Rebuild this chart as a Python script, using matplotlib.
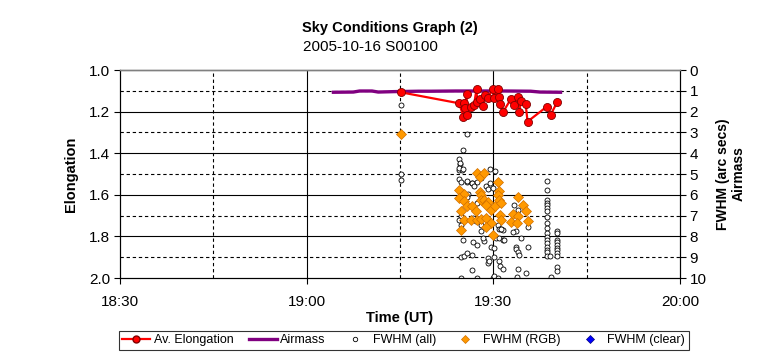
import matplotlib
matplotlib.use("Agg")
import matplotlib.pyplot as plt
from matplotlib.lines import Line2D

plt.rcParams['font.family'] = ['Liberation Sans', 'DejaVu Sans']

# times are minutes after 19:00 UT
elong_min = [15.1, 24.5, 25.2, 25.3, 25.4, 25.7, 25.8, 26.4, 26.9, 27.3, 27.4, 27.9,
             28.4, 28.6, 29.1, 29.9, 30.1, 30.7, 30.9, 31.1, 31.6, 32.8, 33.4, 33.9,
             34.2, 34.4, 35.2, 35.5, 38.6, 39.2, 40.3]
elong_val = [1.107, 1.160, 1.224, 1.160, 1.184, 1.117, 1.216, 1.176, 1.168, 1.091, 1.152, 1.139,
             1.171, 1.120, 1.136, 1.091, 1.136, 1.091, 1.128, 1.165, 1.200, 1.141, 1.168, 1.128,
             1.203, 1.149, 1.165, 1.248, 1.176, 1.216, 1.152]

airmass_min = [4.3, 7.5, 8.5, 10.5, 11.5, 14, 16, 18, 20, 24, 28, 32, 36, 37.5, 40.8]
airmass_val = [1.07, 1.06, 1.01, 1.01, 1.06, 1.04, 1.03, 1.02, 1.02, 1.01, 1.01, 1.01, 1.02, 1.06, 1.07]

fwhm_all_min = [15.1, 15.1, 15.1,
                25.7, 25.2, 24.5, 24.6, 24.5, 24.9, 24.5, 24.8, 25.7, 26.6, 27.4, 28.0, 28.9,
                29.1, 29.9, 30.2, 25.2, 25.9, 25.7, 27.4, 28.0, 26.8, 27.2, 27.7, 28.0, 28.0,
                30.7, 30.9, 31.2, 31.6, 25.2, 26.8, 27.4, 28.5, 28.4, 29.6, 30.1, 30.4, 30.9,
                31.5, 31.7, 24.8, 25.3, 25.7, 26.6, 29.1, 29.1, 29.3, 30.1, 30.9, 31.1, 31.6,
                26.6, 24.8, 27.4, 29.9, 30.1, 30.7, 33.6, 33.6, 33.9, 34.1, 33.6, 33.1, 34.4,
                35.5, 33.9, 33.8, 35.2, 35.5, 33.9, 33.3,
                24.6, 24.5, 25.2, 25.8, 26.6, 26.9, 29.5, 29.5, 24.8, 24.5, 24.8, 28.8, 31.2,
                38.6, 38.6, 38.6, 38.6, 38.6, 38.6, 38.6, 38.6, 38.6, 38.6, 38.6, 38.6, 38.6,
                38.6, 38.6, 38.6, 38.6, 38.6, 39.1, 39.2,
                40.3, 40.3, 40.3, 40.3, 40.3, 40.3, 40.3, 40.3, 40.3, 40.3, 40.3]
fwhm_all_val = [1.7, 5.0, 5.3,
                3.1, 3.85, 4.3, 4.5, 4.8, 4.8, 5.25, 5.4, 5.4, 5.45, 5.4, 5.2, 5.6,
                5.7, 5.65, 4.85, 5.9, 5.95, 6.1, 6.4, 6.2, 7.1, 7.25, 7.15, 7.45, 7.75,
                7.45, 7.65, 7.65, 7.7, 8.15, 8.25, 8.4, 8.2, 8.1, 8.5, 8.55, 8.1, 8.1,
                8.15, 8.15, 9.0, 8.95, 8.8, 8.9, 9.05, 9.3, 9.2, 9.0, 9.2, 9.4, 9.55,
                9.6, 10.0, 10.0, 10.0, 9.9, 10.0, 8.5, 8.6, 8.75, 8.9, 7.75, 7.8, 8.1,
                8.5, 9.55, 9.95, 9.75, 7.55, 6.75, 6.5,
                4.45, 4.7, 4.75, 5.35, 5.45, 5.6, 5.45, 4.75, 7.0, 7.2, 7.45, 7.5, 7.65,
                5.35, 5.75, 6.25, 6.4, 6.5, 6.65, 6.8, 7.05, 7.35, 7.6, 7.85, 8.05, 8.15,
                8.3, 8.5, 8.65, 8.75, 8.95, 8.95, 9.95,
                7.75, 7.85, 8.15, 8.25, 8.4, 8.55, 8.65, 8.8, 8.95, 9.45, 9.65]

fwhm_rgb_min = [15.1, 27.4, 27.9, 28.5, 30.8, 24.5, 25.3, 27.8, 28.0, 30.9, 30.7, 24.5,
                25.3, 25.7, 24.8, 26.6, 27.2, 28.0, 28.5, 29.1, 28.8, 29.6, 30.3, 30.9,
                31.3, 31.1, 31.3, 25.3, 26.4, 27.4, 28.0, 28.9, 29.7, 28.8, 24.8, 30.0,
                33.9, 34.7, 35.2, 33.1, 33.9, 32.9, 33.8, 35.6]
fwhm_rgb_val = [3.1, 4.95, 5.15, 4.95, 5.4, 5.75, 5.95, 5.85, 6.0, 5.8, 6.0, 6.15,
                6.3, 6.55, 6.8, 6.55, 6.8, 6.25, 6.25, 6.35, 6.5, 6.75, 6.55, 6.25,
                6.4, 6.95, 7.2, 7.2, 7.2, 7.2, 7.15, 7.1, 7.35, 7.55, 7.7, 7.95,
                6.1, 6.5, 6.8, 6.9, 7.0, 7.3, 7.35, 7.25]

fwhm_clear_min = []
fwhm_clear_val = []

x_ticks = [-30, 0, 30, 60]
x_labels = ['18:30', '19:00', '19:30', '20:00']

fig = plt.figure(figsize=(7.63, 3.58), dpi=100)
ax = fig.add_axes([120 / 763, 1 - 278 / 358, 560 / 763, 208 / 358])
ax2 = ax.twinx()

# right axis sits underneath, carries the grey background and the grid
ax.set_zorder(ax2.get_zorder() + 1)
ax.patch.set_visible(False)
ax2.patch.set_facecolor('#c0c0c0')

dash = (0, (3, 2.5))
for v in [2, 4, 6, 8]:
    ax2.axhline(v, color='black', lw=0.8, zorder=0.5)
for v in [1, 3, 5, 7, 9]:
    ax2.axhline(v, color='black', lw=0.8, ls=dash, zorder=0.5)
for v in [0, 30]:
    ax2.axvline(v, color='black', lw=0.8, zorder=0.5)
for v in [-15, 15, 45]:
    ax2.axvline(v, color='black', lw=0.8, ls=dash, zorder=0.5)

ax2.plot(fwhm_all_min, fwhm_all_val, 'o', ms=3.6, mfc='white', mec='black', mew=0.6,
         ls='none', zorder=2)
ax2.plot(fwhm_rgb_min, fwhm_rgb_val, 'D', ms=5, mfc='#ff9900', mec='#d07000', mew=0.5,
         ls='none', zorder=3)
ax2.plot(fwhm_clear_min, fwhm_clear_val, 'D', ms=4, mfc='#0000ff', mec='#000080',
         ls='none', zorder=3)
ax2.plot(airmass_min, airmass_val, color='#800080', lw=2.4, zorder=4)

ax.plot(elong_min, elong_val, color='#ff0000', lw=1.6, marker='o', ms=5.8,
        mfc='#ff0000', mec='#800000', mew=0.6, zorder=5)

ax.set_xlim(-30, 60)
ax.set_ylim(2.0, 1.0)
ax2.set_ylim(10, 0)
ax.set_xticks(x_ticks)
ax.set_xticklabels(x_labels)
ax.set_yticks([1.0, 1.2, 1.4, 1.6, 1.8, 2.0])
ax.set_yticklabels(['1.0', '1.2', '1.4', '1.6', '1.8', '2.0'])
ax2.set_yticks(range(0, 11))

ax.tick_params(axis='both', direction='out', length=4, width=0.8, labelsize=11, pad=3)
ax.tick_params(axis='x', pad=8)
ax2.tick_params(axis='y', direction='out', length=4, width=0.8, labelsize=11, pad=3)

for a in (ax, ax2):
    for s in ['left', 'right', 'bottom']:
        a.spines[s].set_color('black')
        a.spines[s].set_linewidth(0.8)
    a.spines['top'].set_color('#808080')
    a.spines['top'].set_linewidth(1.0)

ax.set_ylabel('Elongation', fontsize=10.5, fontweight='bold', labelpad=8)
ax.set_xlabel('Time (UT)', fontsize=10.5, fontweight='bold', labelpad=2)
ax2.set_ylabel('FWHM (arc secs)\nAirmass', fontsize=10, fontweight='bold',
               labelpad=7, linespacing=1.1)

fig.text(0.511, 0.923, 'Sky Conditions Graph (2)', ha='center', va='center',
         fontsize=10.5, fontweight='bold')
fig.text(0.485, 0.868, '2005-10-16 S00100', ha='center', va='center', fontsize=11)

handles = [
    Line2D([], [], color='#ff0000', lw=1.6, marker='o', ms=5, mfc='#ff0000', mec='#800000'),
    Line2D([], [], color='#800080', lw=2.4),
    Line2D([], [], ls='none', marker='o', ms=3.2, mfc='white', mec='black', mew=0.6),
    Line2D([], [], ls='none', marker='D', ms=4, mfc='#ff9900', mec='#d07000', mew=0.5),
    Line2D([], [], ls='none', marker='D', ms=4, mfc='#0000ff', mec='#000080', mew=0.5),
]
labels = ['Av. Elongation', 'Airmass', 'FWHM (all)', 'FWHM (RGB)', 'FWHM (clear)']
leg = fig.legend(handles, labels, loc='center', bbox_to_anchor=(0.529, 0.049), ncol=5,
                 fontsize=9, frameon=True, fancybox=False, edgecolor='black',
                 handlelength=2.2, handletextpad=0.3, columnspacing=1.25, borderpad=0.3)
leg.get_frame().set_linewidth(0.8)

fig.savefig('out.png', dpi=100)
